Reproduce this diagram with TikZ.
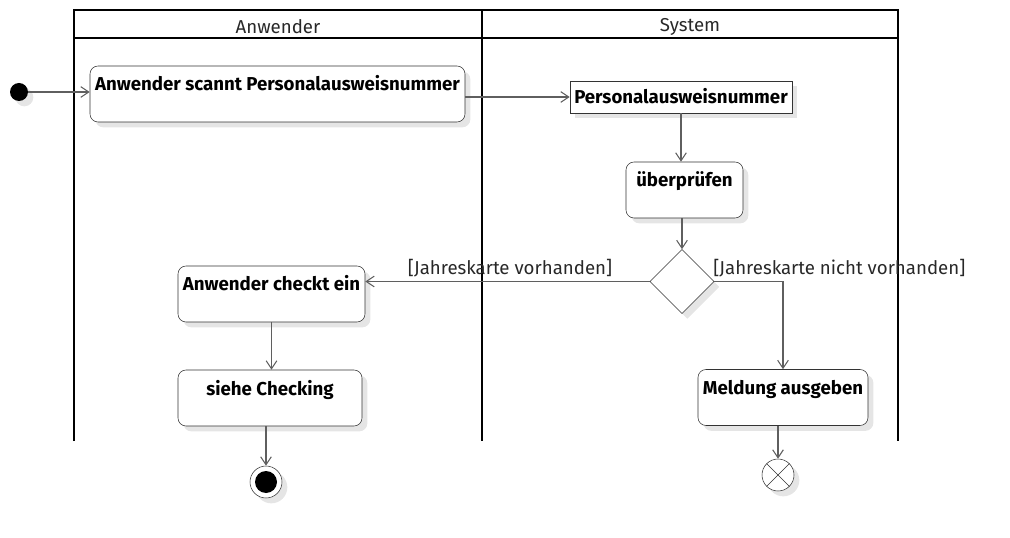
\documentclass[tikz,border=0pt]{standalone}
\usepackage{fontspec}
\setmainfont{Fira Sans}
\usetikzlibrary{arrows.meta,shapes.geometric,shadows}

\definecolor{linie}{RGB}{95,95,95}
\definecolor{schrift}{RGB}{40,40,40}

\tikzset{
  schatten/.style={drop shadow={fill=black,opacity=0.10,shadow xshift=4pt,shadow yshift=-4pt}},
  aktion/.style={draw=black!80,fill=white,rounded corners=6pt,schatten,inner sep=0pt,
    font=\bfseries\fontsize{14}{16}\selectfont,text height=18.75pt,text depth=23.25pt},
  objekt/.style={draw=black!80,fill=white,schatten,inner sep=0pt,
    font=\bfseries\fontsize{14}{16}\selectfont,text height=17pt,text depth=7pt},
  entscheidung/.style={diamond,draw=black!80,fill=white,schatten,inner sep=0pt,minimum size=48pt},
  startpunkt/.style={circle,fill=black,inner sep=0pt,minimum size=13.5pt,schatten},
  endpunkt/.style={circle,draw=black!80,fill=white,inner sep=0pt,minimum size=24pt,schatten,
    path picture={\fill[black] (path picture bounding box.center) circle (8.25pt);}},
  flussende/.style={circle,draw=black!80,fill=white,inner sep=0pt,minimum size=24pt,schatten},
  fluss/.style={draw=linie,line width=0.8pt,-{Straight Barb[length=6pt,width=8pt,line width=0.8pt]}},
  bahn/.style={draw=black,line width=1.5pt},
  bedingung/.style={font=\fontsize{14}{16}\selectfont,text=schrift,inner sep=0pt}
}

\begin{document}
\begin{tikzpicture}[x=0.75pt,y=-0.75pt]
\useasboundingbox (0,0) rectangle (1010,538);

% Schwimmbahnen
\draw[bahn] (74,441) -- (74,10) -- (898,10) -- (898,441);
\draw[bahn] (74,38) -- (898,38);
\draw[bahn] (482,10) -- (482,441);
\node[bedingung] (bahnA) at (278,27) {Anwender};
\node[bedingung] (bahnS) at (690,27) {System};

% Knoten
\node[startpunkt] (start) at (19,92) {};
\node[aktion,minimum width=281.25pt] (scannen) at (277.5,94) {Anwender scannt Personalausweisnummer};
\node[objekt,minimum width=166.5pt] (nummer) at (681,97) {Personalausweisnummer};
\node[aktion,minimum width=87.75pt] (pruefen) at (684.5,190) {überprüfen};
\node[entscheidung] (entsch) at (682,281.5) {};
\node[aktion,minimum width=140.25pt] (checkt) at (271.5,294) {Anwender checkt ein};
\node[aktion,minimum width=138pt] (siehe) at (270,398) {siehe Checking};
\node[aktion,minimum width=127.5pt] (meldung) at (783,397.5) {Meldung ausgeben};
\node[endpunkt] (ende) at (266,482) {};
\node[flussende] (abbruch) at (778,475) {};
\draw[black!80] (abbruch.north west) -- (abbruch.south east);
\draw[black!80] (abbruch.north east) -- (abbruch.south west);

% Kanten
\draw[fluss] (start) -- (start -| scannen.west);
\draw[fluss] (nummer.west -| scannen.east) -- (nummer.west);
\draw[fluss] (nummer.south) -- (nummer.south |- pruefen.north);
\draw[fluss] (entsch.north |- pruefen.south) -- (entsch.north);
\draw[fluss] (entsch.west) -- (entsch.west -| checkt.east);
\draw[fluss] (entsch.east) -| (meldung.north);
\draw[fluss] (checkt.south) -- (checkt.south |- siehe.north);
\draw[fluss] (ende.north |- siehe.south) -- (ende.north);
\draw[fluss] (abbruch.north |- meldung.south) -- (abbruch.north);

\node[bedingung] (ja) at (510,268) {[Jahreskarte vorhanden]};
\node[bedingung,anchor=west] (nein) at (713,268) {[Jahreskarte nicht vorhanden]};
\end{tikzpicture}
\end{document}
